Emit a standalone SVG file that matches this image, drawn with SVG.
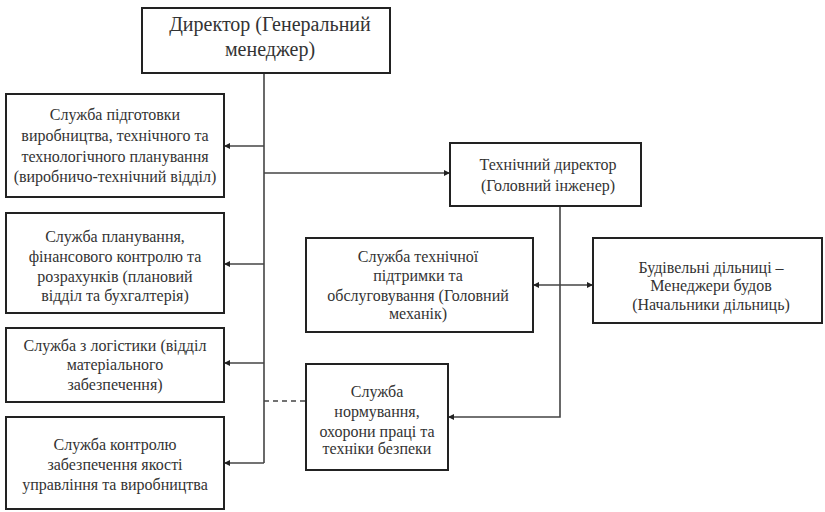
<svg xmlns="http://www.w3.org/2000/svg" width="825" height="512" viewBox="0 0 825 512" font-family="Liberation Serif, Times New Roman, serif">
<defs>
<marker id="ah" viewBox="0 0 6 6" refX="6" refY="3" markerWidth="6" markerHeight="6" markerUnits="userSpaceOnUse" orient="auto-start-reverse">
<path d="M0,0 L6,3 L0,6 Z" fill="#222"/>
</marker>
</defs>
<style>
.box{fill:#fff;stroke:#222;stroke-width:2}
text{font-size:16px;fill:#333;text-anchor:middle}
text.big{font-size:20px}
.c{fill:none;stroke:#444;stroke-width:1.6}
.d{stroke-dasharray:5,4}
</style>
<rect width="825" height="512" fill="#fff"/>
<g id="connectors">
<path class="c" d="M264,73 V463"/>
<path class="c" d="M264,146 H224" marker-end="url(#ah)"/>
<path class="c" d="M264,264 H224" marker-end="url(#ah)"/>
<path class="c" d="M264,363 H224" marker-end="url(#ah)"/>
<path class="c" d="M264,463 H224" marker-end="url(#ah)"/>
<path class="c" d="M264,173 H450" marker-end="url(#ah)"/>
<path class="c d" d="M264,401 H306"/>
<path class="c" d="M560,206 V417 H448" marker-end="url(#ah)"/>
<path class="c" d="M533,285 H593" marker-start="url(#ah)" marker-end="url(#ah)"/>
</g>
<g id="director">
<rect class="box" x="142" y="8" width="248" height="65"/>
<text class="big" x="270" y="31">Директор (Генеральний</text>
<text class="big" x="270" y="56">менеджер)</text>
</g>
<g id="prod-prep">
<rect class="box" x="6" y="94" width="218" height="103"/>
<text x="115" y="120">Служба підготовки</text>
<text x="115" y="141">виробництва, технічного та</text>
<text x="115" y="162">технологічного планування</text>
<text x="115" y="182">(виробничо-технічний відділ)</text>
</g>
<g id="planning">
<rect class="box" x="6" y="213" width="218" height="100"/>
<text x="115" y="242">Служба планування,</text>
<text x="115" y="262">фінансового контролю та</text>
<text x="115" y="282">розрахунків (плановий</text>
<text x="115" y="301">відділ та бухгалтерія)</text>
</g>
<g id="logistics">
<rect class="box" x="6" y="328" width="218" height="74"/>
<text x="115" y="351">Служба з логістики (відділ</text>
<text x="115" y="370">матеріального</text>
<text x="115" y="390">забезпечення)</text>
</g>
<g id="quality">
<rect class="box" x="6" y="417" width="218" height="92"/>
<text x="115" y="450">Служба контролю</text>
<text x="115" y="470">забезпечення якості</text>
<text x="115" y="490">управління та виробництва</text>
</g>
<g id="tech-director">
<rect class="box" x="450" y="143" width="191" height="63"/>
<text x="548" y="170">Технічний директор</text>
<text x="548" y="191">(Головний інженер)</text>
</g>
<g id="tech-support">
<rect class="box" x="306" y="238" width="227" height="94"/>
<text x="418" y="262">Служба технічної</text>
<text x="418" y="281">підтримки та</text>
<text x="418" y="301">обслуговування (Головний</text>
<text x="418" y="319">механік)</text>
</g>
<g id="sites">
<rect class="box" x="593" y="238" width="229" height="85"/>
<text x="711" y="273">Будівельні дільниці –</text>
<text x="711" y="291">Менеджери будов</text>
<text x="711" y="310">(Начальники дільниць)</text>
</g>
<g id="safety">
<rect class="box" x="306" y="364" width="142" height="106"/>
<text x="377" y="397">Служба</text>
<text x="377" y="417">нормування,</text>
<text x="377" y="437">охорони праці та</text>
<text x="377" y="454">техніки безпеки</text>
</g>
</svg>
